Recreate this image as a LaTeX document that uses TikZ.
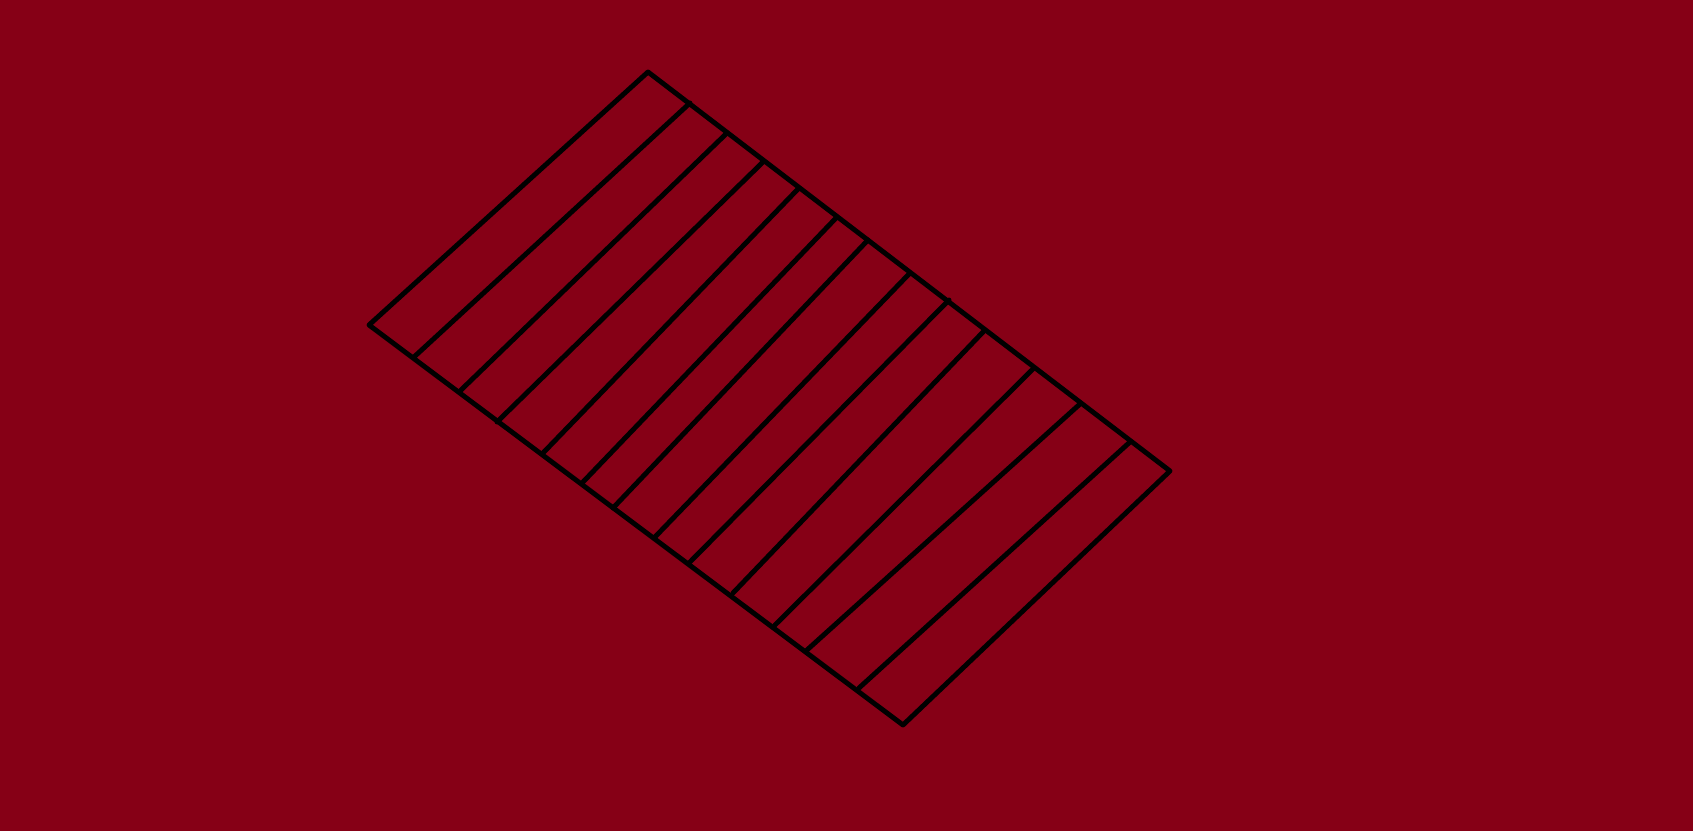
\documentclass[tikz,border=0pt]{standalone}
\usepackage{xcolor}
\usepackage{tikz}
\definecolor{bgred}{HTML}{860016}
\tikzset{
  edge/.style={draw=black, line width=1.4pt, line cap=round, line join=round},
}

\begin{document}
\begin{tikzpicture}[x=0.01cm, y=-0.01cm]
  \fill[bgred] (0,0) rectangle (1693,831);
  \useasboundingbox (0,0) rectangle (1693,831);
  % corners of the plank
  \coordinate (top) at (648,72);
  \coordinate (lft) at (369,325);
  \coordinate (bot) at (903,725);
  \coordinate (rgt) at (1170,471);
  % ends of the slats, upper and lower side
  \coordinate (t1) at (690,103);   \coordinate (b1) at (414,357);
  \coordinate (t2) at (727,133);   \coordinate (b2) at (460,391);
  \coordinate (t3) at (763,162);   \coordinate (b3) at (497,422);
  \coordinate (t4) at (799,188);   \coordinate (b4) at (543,453);
  \coordinate (t5) at (837,217);   \coordinate (b5) at (583,482);
  \coordinate (t6) at (868,240);   \coordinate (b6) at (613,508);
  \coordinate (t7) at (910,273);   \coordinate (b7) at (654,538);
  \coordinate (t8) at (949,300);   \coordinate (b8) at (690,562);
  \coordinate (t9) at (984,331);   \coordinate (b9) at (733,593);
  \coordinate (t10) at (1034,368); \coordinate (b10) at (775,625);
  \coordinate (t11) at (1080,404); \coordinate (b11) at (807,650);
  \coordinate (t12) at (1130,442); \coordinate (b12) at (859,688);
  \draw[edge] (top) -- (rgt) -- (bot) -- (lft) -- cycle;
  \foreach \i in {1,...,12}
    \draw[edge] (t\i) -- (b\i);
\end{tikzpicture}
\end{document}
